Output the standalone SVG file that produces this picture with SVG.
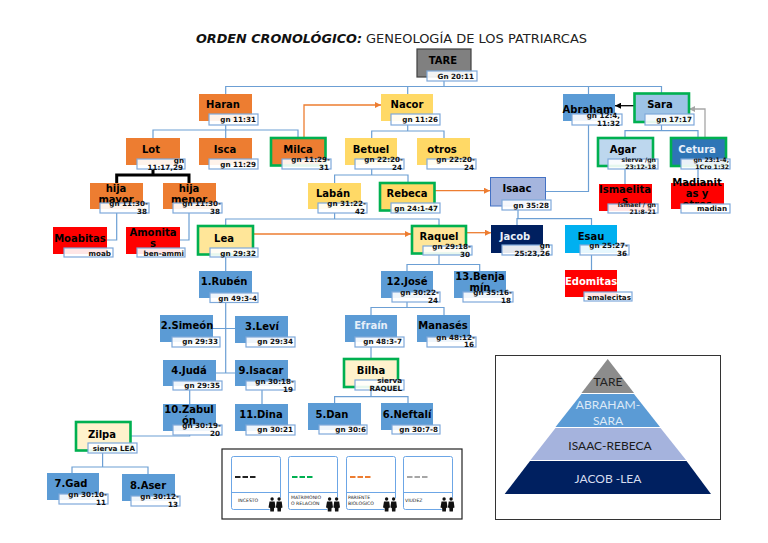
<svg xmlns="http://www.w3.org/2000/svg" xmlns:xlink="http://www.w3.org/1999/xlink" width="768" height="543" viewBox="0 0 768 543">
<style>
text{font-family:"DejaVu Sans",sans-serif}
.n{font-size:10px;font-weight:700;text-anchor:middle;fill:#000}
.w{fill:#e8f0fa}
.l{fill:#fff;fill-opacity:.9;stroke:#7fa9da;stroke-width:1.2}
.t{font-size:7.2px;font-weight:700;text-anchor:end;fill:#111}
.c{fill:none;stroke:#6c9fd4;stroke-width:1.2}
.o{fill:none;stroke:#ed7d31;stroke-width:1.3}
.or{fill:#ed7d31}.ye{fill:#ffd966}.bl{fill:#5b9bd5}.re{fill:#ff0000}
.g{stroke:#00b050;stroke-width:2.6}
.card{fill:#fff;stroke:#6ca6e6;stroke-width:1}
.lg{font-size:4.6px;fill:#222}
.p{font-family:Lato,sans-serif;font-size:12px;text-anchor:middle}
</style>
<defs>
<marker id="ao" markerWidth="7" markerHeight="6" refX="6" refY="3" orient="auto" markerUnits="userSpaceOnUse"><path d="M0 0L6 3L0 6z" fill="#ed7d31"/></marker>
<marker id="ak" markerWidth="7" markerHeight="6" refX="6" refY="3" orient="auto" markerUnits="userSpaceOnUse"><path d="M0 0L6 3L0 6z" fill="#000"/></marker>
<marker id="ag" markerWidth="7" markerHeight="6" refX="6" refY="3" orient="auto" markerUnits="userSpaceOnUse"><path d="M0 0L6 3L0 6z" fill="#a6a6a6"/></marker>
<g id="ppl"><circle cx="8" cy="8" r="8" fill="#fff"/><circle cx="4.6" cy="3" r="1.7" fill="#111"/><path d="M2 5.5h5.2l.8 6-1.4.5-.2 3.5H2.8l-.2-3.5-1.6-.5z" fill="#111"/><circle cx="11.6" cy="3" r="1.7" fill="#111"/><path d="M9.2 5.5h5l.8 6-1.4.5-.2 3.5h-3.4l-.2-3.5-1.4-.5z" fill="#111"/></g>
</defs>
<text x="196" y="43" font-size="12.6" font-weight="700" font-style="italic" textLength="166" lengthAdjust="spacingAndGlyphs" fill="#111">ORDEN CRONOLÓGICO:</text>
<text x="366" y="43" font-size="12" textLength="221" lengthAdjust="spacingAndGlyphs" fill="#222">GENEOLOGÍA DE LOS PATRIARCAS</text>

<g id="connectors">
<path class="c" d="M444 81V86.5M225.7 94V86.5H661.5V93M407.7 86.5V94M588.5 86.5V94"/>
<path class="c" d="M225.7 125V130M153 138V130H298V137M225.7 130V138"/>
<path class="c" d="M407.7 125V131M371.7 138V131H444V138"/>
<path class="c" d="M371.7 169V175M334.6 183V175H408V182"/>
<path class="c" d="M334.6 213V219M225.7 225V219H439V225"/>
<path class="c" d="M588.5 125V191.5H546"/>
<path class="c" d="M661.5 125V130.7M625 137V130.7H698V137"/>
<path class="c" d="M625 169V184M698 169V183"/>
<path class="c" d="M116.7 213V240H107M189 213V240H180"/>
<path class="c" d="M225.7 257V271M225.7 303V373M213 328.5H235M216 373H235"/>
<path class="c" d="M262 390V404M189.7 390V404M131 436H189.7V435"/>
<path class="c" d="M102.6 453V467M72 473V467H148V474"/>
<path class="c" d="M439 255V264.500M407 271V264.500H479.700V271"/>
<path class="c" d="M518 210V218.700M517 225V218.700H591.500V225M591.500 255V270"/>
<path class="c" d="M407 302V307.500M371 315V307.500H444V315M371 347V358M371 390V396.700M334.600 403V396.700H408V403"/>
<path d="M153 169V175M116.700 183V175H189V183" fill="none" stroke="#000" stroke-width="3"/>
<path class="o" d="M304 137V105H381" marker-end="url(#ao)"/>
<path class="o" d="M435 190.700H490" marker-end="url(#ao)"/>
<path class="o" d="M253 234H411" marker-end="url(#ao)"/>
<path class="o" d="M466 232.700H491" marker-end="url(#ao)"/>
<path d="M634 105.700H615" fill="none" stroke="#000" stroke-width="1.300" marker-end="url(#ak)"/>
<path d="M705 137V109H689" fill="none" stroke="#a6a6a6" stroke-width="1.300" marker-end="url(#ag)"/>
</g>

<g id="tare"><rect x="417" y="49" width="54" height="28" fill="#808080" stroke="#404040" stroke-width="1.200"/><text class="n" x="443" y="64">TARE</text><rect class="l" x="427" y="71" width="50" height="10"/><text class="t" x="474" y="78.500">Gn 20:11</text></g>
<g id="haran"><rect class="or" x="199" y="94" width="53" height="27"/><text class="n" x="223" y="108">Haran</text><rect class="l" x="209" y="114" width="49" height="11"/><text class="t" x="256" y="121.500">gn 11:31</text></g>
<g id="nacor"><rect class="ye" x="381" y="94" width="52" height="27"/><text class="n" x="407" y="108">Nacor</text><rect class="l" x="391" y="114" width="49" height="11"/><text class="t" x="438" y="121.500">gn 11:26</text></g>
<g id="abraham"><rect class="bl" x="563" y="94" width="52" height="27"/><text class="n" x="588" y="113">Abraham</text><rect class="l" x="572" y="114" width="50" height="11"/><text class="t" x="620" y="118">gn 12:4,</text><text class="t" x="620" y="125.500">11:32</text></g>
<g id="sara"><rect x="634.500" y="93.500" width="54.500" height="28.500" fill="#9dc3e6" class="g"/><text class="n" x="660" y="108">Sara</text><rect class="l" x="645" y="114" width="49" height="11"/><text class="t" x="692" y="121.500">gn 17:17</text></g>
<g id="lot"><rect class="or" x="126" y="138" width="54" height="27"/><text class="n" x="151" y="153">Lot</text><rect class="l" x="137" y="159" width="48" height="10"/><text class="t" x="184" y="162.500">gn</text><text class="t" x="183" y="169.500">11:17,29</text></g>
<g id="isca"><rect class="or" x="199" y="138" width="53" height="27"/><text class="n" x="225" y="153">Isca</text><rect class="l" x="209" y="159" width="49" height="10"/><text class="t" x="256" y="166.500">gn 11:29</text></g>
<g id="milca"><rect class="or g" x="271" y="138" width="54.500" height="27.500"/><text class="n" x="298" y="153">Milca</text><rect class="l" x="282" y="159" width="49" height="10"/><text class="t" x="330" y="162">gn 11:29-</text><text class="t" x="329" y="169.500">31</text></g>
<g id="betuel"><rect class="ye" x="345" y="138" width="52" height="27"/><text class="n" x="371" y="153">Betuel</text><rect class="l" x="355" y="159" width="49" height="10"/><text class="t" x="403" y="162">gn 22:20-</text><text class="t" x="402" y="169.500">24</text></g>
<g id="otros"><rect class="ye" x="417" y="138" width="53" height="27"/><text class="n" x="442" y="153">otros</text><rect class="l" x="427" y="159" width="49" height="10"/><text class="t" x="475" y="162">gn 22:20-</text><text class="t" x="474" y="169.500">24</text></g>
<g id="agar"><rect x="598" y="138" width="55" height="28" fill="#bdd7ee" class="g"/><text class="n" x="623" y="153">Agar</text><rect class="l" x="608" y="159" width="50" height="10"/><text class="t" x="656" y="162" style="font-size:6.200px">sierva /gn</text><text class="t" x="656" y="169" style="font-size:6.200px">23:12-18</text></g>
<g id="cetura"><rect x="671" y="138" width="55" height="28" fill="#2e75b6" class="g"/><text class="n w" x="697" y="153">Cetura</text><rect class="l" x="681" y="159" width="49" height="10"/><text class="t" x="729" y="162" style="font-size:6.200px">gn 23:1-4,</text><text class="t" x="729" y="169" style="font-size:6.200px">1Cro 1:32</text></g>
<g id="hija-mayor"><rect class="or" x="90" y="183" width="53" height="26"/><text class="n" x="116" y="192">hija</text><text class="n" x="116" y="203">mayor</text><rect class="l" x="100" y="203" width="49" height="10"/><text class="t" x="148" y="206">gn 11:30-</text><text class="t" x="147" y="214">38</text></g>
<g id="hija-menor"><rect class="or" x="163" y="183" width="53" height="26"/><text class="n" x="189" y="192">hija</text><text class="n" x="189" y="203">menor</text><rect class="l" x="173" y="203" width="49" height="10"/><text class="t" x="221" y="206">gn 11:30-</text><text class="t" x="220" y="214">38</text></g>
<g id="laban"><rect class="ye" x="308" y="183" width="53" height="26"/><text class="n" x="333" y="197">Labán</text><rect class="l" x="318" y="203" width="49" height="10"/><text class="t" x="366" y="206">gn 31:22-</text><text class="t" x="365" y="214">42</text></g>
<g id="rebeca"><rect class="ye g" x="380" y="183" width="54.500" height="27.500"/><text class="n" x="407" y="197">Rebeca</text><rect class="l" x="391" y="203" width="49" height="10"/><text class="t" x="438" y="210.500">gn 24:1-47</text></g>
<g id="isaac"><rect x="490.500" y="177.500" width="55" height="28.500" fill="#a5b5de" stroke="#4472c4" stroke-width="1"/><text class="n" x="517" y="192">Isaac</text><rect class="l" x="502" y="200" width="49" height="10"/><text class="t" x="549" y="207.500">gn 35:28</text></g>
<g id="ismaelitas"><rect class="re" x="599" y="184" width="53" height="27"/><text class="n" x="625" y="193">Ismaelita</text><text class="n" x="625" y="204">s</text><rect class="l" x="608" y="204" width="50" height="9"/><text class="t" x="656" y="207" style="font-size:6.200px">ismael / gn</text><text class="t" x="656" y="214" style="font-size:6.200px">21:8-21</text></g>
<g id="madianitas"><rect class="re" x="671" y="183" width="53" height="26"/><text class="n" x="697" y="186">Madianit</text><text class="n" x="697" y="197">as y</text><text class="n" x="697" y="208">otros</text><rect class="l" x="681" y="204" width="49" height="9" style="fill-opacity:1"/><text class="t" x="727" y="211">madian</text></g>
<g id="moabitas"><rect class="re" x="53" y="227" width="54" height="27"/><text class="n" x="80" y="242">Moabitas</text><rect class="l" x="64" y="248" width="49" height="9"/><text class="t" x="111" y="255.500">moab</text></g>
<g id="amonitas"><rect class="re" x="126" y="227" width="54" height="27"/><text class="n" x="153" y="236">Amonita</text><text class="n" x="153" y="247">s</text><rect class="l" x="137" y="248" width="48" height="9"/><text class="t" x="184" y="255.500">ben-ammi</text></g>
<g id="lea"><rect x="198" y="226" width="55" height="28.500" fill="#ffe699" class="g"/><text class="n" x="224" y="242">Lea</text><rect class="l" x="210" y="248" width="48" height="9"/><text class="t" x="256" y="255.500">gn 29:32</text></g>
<g id="raquel"><rect x="412" y="226" width="54" height="27.500" fill="#ffe699" class="g"/><text class="n" x="439" y="240">Raquel</text><rect class="l" x="423" y="246" width="49" height="9"/><text class="t" x="471" y="249">gn 29:18-</text><text class="t" x="470" y="257">30</text></g>
<g id="jacob"><rect x="491" y="225" width="52" height="28" fill="#002060"/><text class="n w" x="515" y="240">Jacob</text><rect class="l" x="502" y="245" width="50" height="10"/><text class="t" x="550" y="248">gn</text><text class="t" x="550" y="256">25:23,26</text></g>
<g id="esau"><rect x="565" y="225" width="52" height="28" fill="#00b0f0"/><text class="n" x="591" y="240">Esau</text><rect class="l" x="580" y="245" width="49" height="10"/><text class="t" x="628" y="248">gn 25:27-</text><text class="t" x="627" y="256">36</text></g>
<g id="edomitas"><rect class="re" x="565" y="270" width="52" height="27"/><text class="n" x="591" y="285" style="fill:#fff">Edomitas</text><rect class="l" x="584" y="292" width="48" height="9"/><text class="t" x="631" y="299.500">amalecitas</text></g>
<g id="ruben"><rect class="bl" x="199" y="271" width="53" height="27"/><text class="n" x="224" y="285">1.Rubén</text><rect class="l" x="210" y="293" width="48" height="9.500"/><text class="t" x="257" y="300.500">gn 49:3-4</text></g>
<g id="jose"><rect class="bl" x="381" y="271" width="52" height="27"/><text class="n" x="407" y="285">12.José</text><rect class="l" x="392" y="292" width="48" height="10"/><text class="t" x="439" y="295">gn 30:22-</text><text class="t" x="438" y="303">24</text></g>
<g id="benjamin"><rect class="bl" x="454" y="271" width="52" height="27"/><text class="n" x="480" y="280">13.Benja</text><text class="n" x="480" y="291">mín</text><rect class="l" x="463" y="292" width="50" height="10"/><text class="t" x="512" y="295">gn 35:16-</text><text class="t" x="511" y="303">18</text></g>
<g id="simeon"><rect class="bl" x="160" y="315" width="53" height="27"/><text class="n" x="187" y="329">2.Simeón</text><rect class="l" x="172" y="337" width="48" height="10"/><text class="t" x="218" y="343.500">gn 29:33</text></g>
<g id="levi"><rect class="bl" x="235" y="316" width="53" height="27"/><text class="n" x="262" y="330">3.Leví</text><rect class="l" x="246" y="337" width="49" height="10"/><text class="t" x="293" y="343.500">gn 29:34</text></g>
<g id="efrain"><rect class="bl" x="345" y="315" width="52" height="27"/><text class="n" x="371" y="329" style="fill:#e6eff9">Efraín</text><rect class="l" x="355" y="337" width="49" height="10"/><text class="t" x="402" y="343.500">gn 48:3-7</text></g>
<g id="manases"><rect class="bl" x="417" y="315" width="53" height="27"/><text class="n" x="443" y="329">Manasés</text><rect class="l" x="427" y="337" width="49" height="10"/><text class="t" x="475" y="339.500">gn 48:12-</text><text class="t" x="474" y="347">16</text></g>
<g id="juda"><rect class="bl" x="163" y="360" width="53" height="26"/><text class="n" x="189" y="374">4.Judá</text><rect class="l" x="173" y="381" width="49" height="9"/><text class="t" x="220" y="388">gn 29:35</text></g>
<g id="isacar"><rect class="bl" x="235" y="360" width="53" height="26"/><text class="n" x="261" y="374">9.Isacar</text><rect class="l" x="246" y="381" width="49" height="9"/><text class="t" x="294" y="383.500">gn 30:18-</text><text class="t" x="293" y="391.500">19</text></g>
<g id="bilha"><rect x="344" y="359" width="54" height="28" fill="#fff2cc" class="g"/><text class="n" x="371" y="374">Bilha</text><rect class="l" x="355" y="380" width="49" height="10"/><text class="t" x="402" y="383">sierva</text><text class="t" x="402" y="391">RAQUEL</text></g>
<g id="zabulon"><rect class="bl" x="163" y="404" width="53" height="27"/><text class="n" x="189" y="413">10.Zabul</text><text class="n" x="189" y="424">ón</text><rect class="l" x="173" y="425" width="49" height="10"/><text class="t" x="221" y="428">gn 30:19-</text><text class="t" x="220" y="436">20</text></g>
<g id="dina"><rect class="bl" x="235" y="404" width="53" height="27"/><text class="n" x="261" y="418">11.Dina</text><rect class="l" x="246" y="425" width="49" height="10"/><text class="t" x="293" y="432">gn 30:21</text></g>
<g id="dan"><rect class="bl" x="308" y="403" width="53" height="27"/><text class="n" x="332" y="418">5.Dan</text><rect class="l" x="319" y="425" width="48" height="9"/><text class="t" x="366" y="432">gn 30:6</text></g>
<g id="neftali"><rect class="bl" x="381" y="403" width="52" height="27"/><text class="n" x="407" y="418">6.Neftalí</text><rect class="l" x="392" y="425" width="48" height="9"/><text class="t" x="438" y="432">gn 30:7-8</text></g>
<g id="zilpa"><rect x="76" y="422" width="54.500" height="28.500" fill="#fff2cc" class="g"/><text class="n" x="102" y="438">Zilpa</text><rect class="l" x="88" y="443" width="49" height="10"/><text class="t" x="135" y="450.500">sierva LEA</text></g>
<g id="gad"><rect class="bl" x="47" y="473" width="52" height="27"/><text class="n" x="71" y="487">7.Gad</text><rect class="l" x="59" y="494" width="49" height="10"/><text class="t" x="107" y="497">gn 30:10-</text><text class="t" x="106" y="504.500">11</text></g>
<g id="aser"><rect class="bl" x="122" y="474" width="53" height="27"/><text class="n" x="148" y="489">8.Aser</text><rect class="l" x="131" y="496" width="49" height="10"/><text class="t" x="179" y="499">gn 30:12-</text><text class="t" x="178" y="507">13</text></g>

<g id="legend">
<rect x="222" y="449" width="240" height="70" fill="#fff" stroke="#222" stroke-width="1.200"/>
<rect class="card" x="231.500" y="456.500" width="49" height="53" rx="2"/><path class="card" d="M231.500 492.500H280.500"/>
<rect class="card" x="288.500" y="456.500" width="49" height="53" rx="2"/><path class="card" d="M288.500 492.500H337.500"/>
<rect class="card" x="346.500" y="456.500" width="49" height="53" rx="2"/><path class="card" d="M346.500 492.500H395.500"/>
<rect class="card" x="403.500" y="456.500" width="49" height="53" rx="2"/><path class="card" d="M403.500 492.500H452.500"/>
<path d="M235 477H256" stroke="#222" stroke-width="1.800" stroke-dasharray="5.500 2" fill="none"/>
<path d="M292 477H313" stroke="#00b050" stroke-width="1.800" stroke-dasharray="5.500 2" fill="none"/>
<path d="M350 477H371" stroke="#ed7d31" stroke-width="1.800" stroke-dasharray="5.500 2" fill="none"/>
<path d="M407 477H428" stroke="#a6a6a6" stroke-width="1.800" stroke-dasharray="5.500 2" fill="none"/>
<text class="lg" x="238" y="502">INCESTO</text>
<text class="lg" x="291" y="499">MATRIMONIO</text><text class="lg" x="291" y="505">O RELACION</text>
<text class="lg" x="348" y="499">PARIENTE</text><text class="lg" x="348" y="505">BIOLOGICO</text>
<text class="lg" x="405" y="502">VIUDEZ</text>
<use xlink:href="#ppl" href="#ppl" x="267.500" y="496"/>
<use xlink:href="#ppl" href="#ppl" x="325" y="496"/>
<use xlink:href="#ppl" href="#ppl" x="382" y="496"/>
<use xlink:href="#ppl" href="#ppl" x="439.500" y="496"/>
</g>

<g id="pyramid">
<rect x="495.500" y="355.500" width="225" height="164" fill="#fff" stroke="#333" stroke-width="1"/>
<path d="M607.700 359L634 393H581.500z" fill="#8c8c8c"/>
<path d="M581.500 394H634L660 427H555.500z" fill="#5b9bd5"/>
<path d="M555.500 428H660.500L686 460H530.500z" fill="#a5b3dd"/>
<path d="M530 461H686.500L711 494H504.700z" fill="#002060"/>
<text class="p" x="608" y="386" fill="#222">TARE</text>
<text class="p" x="608" y="409" fill="#dce9f7">ABRAHAM-</text>
<text class="p" x="608" y="425" fill="#dce9f7">SARA</text>
<text class="p" x="610" y="450" fill="#1a1a1a">ISAAC-REBECA</text>
<text class="p" x="608" y="483" fill="#d5dcef">JACOB -LEA</text>
</g>
</svg>
